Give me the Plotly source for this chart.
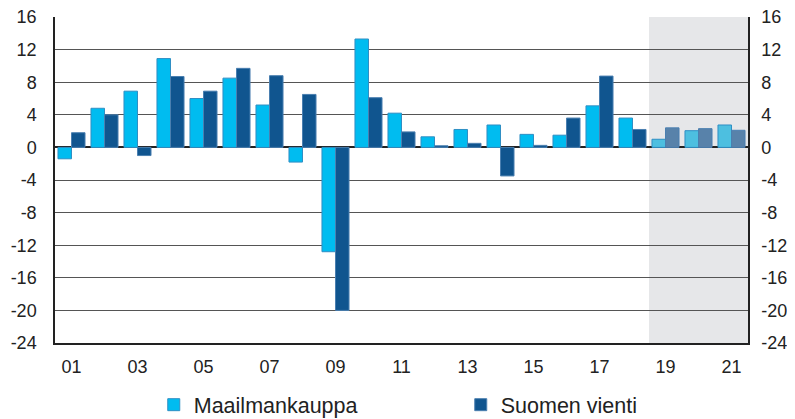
import plotly.graph_objects as go

years = list(range(2001, 2022))
maailmankauppa = [-1.4, 4.8, 6.9, 10.9, 6.0, 8.5, 5.2, -1.8, -12.8, 13.3, 4.2,
                  1.3, 2.2, 2.75, 1.6, 1.5, 5.1, 3.6, 1.0, 2.05, 2.75]
suomen_vienti = [1.8, 4.0, -1.0, 8.7, 6.9, 9.7, 8.8, 6.5, -20.0, 6.1, 1.9,
                 0.2, 0.5, -3.5, 0.25, 3.6, 8.75, 2.2, 2.4, 2.3, 2.1]
forecast_start = 2019
x_ticks = list(range(2001, 2022, 2))
x_ticktext = ["%02d" % (y % 100) for y in x_ticks]
y_ticks = list(range(-24, 17, 4))
y_ticktext = [str(v) for v in y_ticks]

light = "#00BCF0"
dark = "#10558F"
light_f = "#4DBFE0"
dark_f = "#5882AA"

c1 = [light_f if y >= forecast_start else light for y in years]
c2 = [dark_f if y >= forecast_start else dark for y in years]

fig = go.Figure()
fig.add_trace(go.Bar(x=years, y=maailmankauppa, name="Maailmankauppa",
                     marker=dict(color=c1, line=dict(color="#2F8FC4", width=1))))
fig.add_trace(go.Bar(x=years, y=suomen_vienti, name="Suomen vienti",
                     marker=dict(color=c2, line=dict(color="#4A7FB0", width=1))))
fig.add_trace(go.Scatter(x=[years[0]], y=[0], yaxis="y2", mode="markers",
                         marker=dict(opacity=0), showlegend=False, hoverinfo="skip"))

fig.add_shape(type="rect", xref="x", yref="paper", x0=forecast_start - 0.5, x1=years[-1] + 0.5,
              y0=0, y1=1, fillcolor="#E6E7E9", line=dict(width=0), layer="below")

font = dict(family="Liberation Sans, Arial", size=18, color="#222222")
fig.update_layout(
    width=800, height=450,
    margin=dict(l=47, r=60, t=9, b=115),
    paper_bgcolor="white", plot_bgcolor="white",
    barmode="group", bargap=0.18, bargroupgap=0,
    font=font,
    xaxis=dict(range=[2000.5, 2021.5], tickvals=x_ticks, ticktext=x_ticktext,
               showgrid=False, showline=True, linecolor="#222222", linewidth=1.5,
               ticks="", ticklabelstandoff=7, zeroline=False, automargin=False,
               ticklabeloverflow="allow"),
    yaxis=dict(range=[-24, 16], tickvals=y_ticks, ticktext=y_ticktext, showgrid=True,
               gridcolor="#555555", gridwidth=1, zeroline=True, zerolinecolor="#222222",
               zerolinewidth=1.5, showline=True, linecolor="#222222", linewidth=1.5,
               ticks="", ticklabelstandoff=13, automargin=False,
               ticklabeloverflow="allow"),
    yaxis2=dict(range=[-24, 16], tickvals=y_ticks, ticktext=y_ticktext, overlaying="y",
                side="right", showgrid=False, zeroline=False, showline=True,
                linecolor="#222222", linewidth=1.5, ticks="", ticklabelstandoff=8,
                automargin=False, ticklabeloverflow="allow"),
    legend=dict(orientation="h", x=0.1425, xanchor="left", y=-0.1264, yanchor="top",
                font=dict(family="Liberation Sans, Arial", size=21.5, color="#222222"),
                entrywidth=262, itemwidth=30, traceorder="normal"),
    showlegend=True,
)

fig.write_html("out.html")
